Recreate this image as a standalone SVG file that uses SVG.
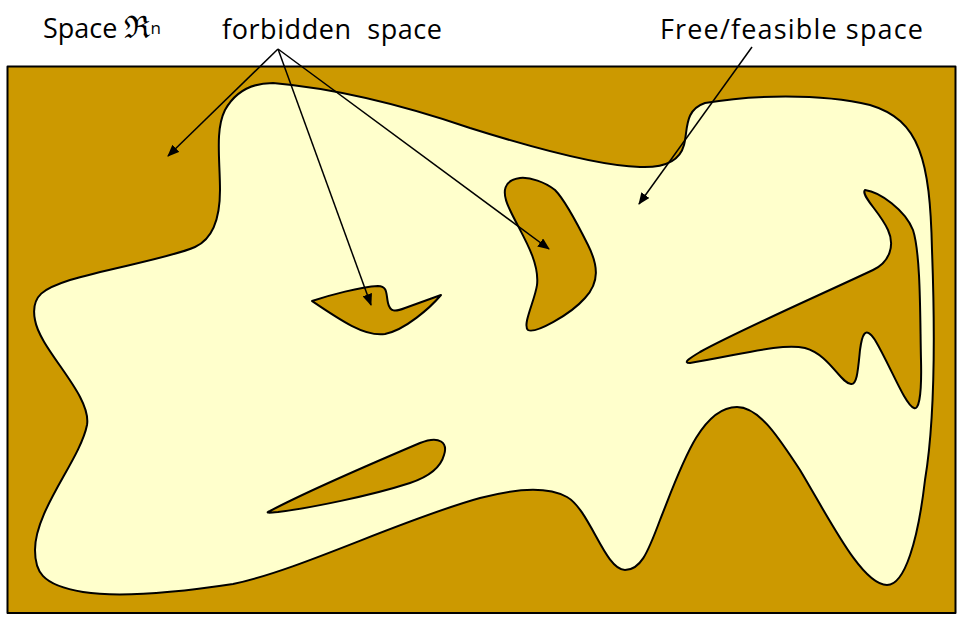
<svg xmlns="http://www.w3.org/2000/svg" width="963" height="624" viewBox="0 0 963 624">
<defs>
<style>
.forb{fill:#CC9900;stroke:#000;stroke-width:2;stroke-linejoin:round}
.free{fill:#FFFFCC;stroke:#000;stroke-width:2}
.lbl{font-family:"Open Sans","Liberation Sans",sans-serif;font-size:27px;fill:#000}
.arr{stroke:#000;stroke-width:1.5;fill:none;marker-end:url(#ah)}
</style>
<marker id="ah" viewBox="0 0 12 10" refX="11" refY="5" markerWidth="12" markerHeight="10" markerUnits="userSpaceOnUse" orient="auto">
<path d="M0,0 L12,5 L0,10 Z" fill="#000"/>
</marker>
</defs>
<rect width="963" height="624" fill="#fff"/>
<g id="space">
<rect x="7.5" y="66.5" width="948" height="546.5" class="forb"/>
</g>
<g id="free-space">
<path class="free" d="M 273,83 C 330,88 400,104 470,128 C 540,150 600,166 640,167 C 665,168 680,160 684,145 C 688,130 684,110 705,103 C 750,95 820,93 870,105 C 920,120 930,160 932,250 C 935,330 935,420 925,480 C 918,540 905,585 887,585 C 862,585 830,520 800,470 C 780,440 760,407 737,407 C 700,407 680,470 660,520 C 647,555 640,570 625,570 C 605,570 590,510 567,497 C 545,485 510,490 480,498 C 400,520 300,570 233,584 C 180,592 120,598 83,592 C 40,585 35,570 35,550 C 35,510 80,460 87,425 C 92,395 40,350 35,320 C 30,295 45,288 70,280 C 110,268 170,258 195,247 C 215,238 220,215 220,190 C 220,160 215,130 225,110 C 235,92 250,83 273,83 Z"/>
</g>
<g id="obstacle-1">
<path class="forb" d="M 312,301 C 330,295 360,287 378,286 C 388,286 386,295 388,303 C 390,312 395,312 405,308 L 441,295 C 430,308 405,330 385,334 C 365,337 340,320 312,301 Z"/>
</g>
<g id="obstacle-2">
<path class="forb" d="M 520,178 C 505,180 500,190 510,210 C 520,232 540,260 537,285 C 535,300 522,325 528,330 C 535,334 570,315 585,298 C 600,282 598,265 588,245 C 578,225 565,200 555,190 C 545,182 530,177 520,178 Z"/>
</g>
<g id="obstacle-3">
<path class="forb" d="M 865,190 C 880,192 905,210 913,230 C 921,255 920,320 921,360 C 922,400 918,410 914,408 C 905,405 890,365 875,340 C 865,325 862,335 860,350 C 858,370 857,385 851,384 C 840,383 830,355 805,348 C 780,343 740,355 690,363 C 682,363 690,358 700,352 C 740,330 820,295 873,270 C 890,262 895,245 888,230 C 880,212 860,195 865,190 Z"/>
</g>
<g id="obstacle-4">
<path class="forb" d="M 270,511 C 300,495 380,460 420,443 C 440,435 448,443 444,455 C 440,470 425,478 410,483 C 370,496 310,508 278,512 C 268,513 265,513 270,511 Z"/>
</g>
<g id="labels">
<text class="lbl" x="43" y="38">Space <tspan font-family="DejaVu Serif,serif" font-size="31">ℜ</tspan><tspan font-size="17" dy="-4">n</tspan></text>
<text class="lbl" x="222" y="39" textLength="220" word-spacing="8">forbidden space</text>
<text class="lbl" x="660" y="39" textLength="263">Free/feasible space</text>
</g>
<g id="connectors">
<line class="arr" x1="278" y1="49" x2="168" y2="156"/>
<line class="arr" x1="278" y1="49" x2="371" y2="305"/>
<line class="arr" x1="278" y1="49" x2="549" y2="249"/>
<line class="arr" x1="752" y1="47" x2="639" y2="204"/>
</g>
</svg>
